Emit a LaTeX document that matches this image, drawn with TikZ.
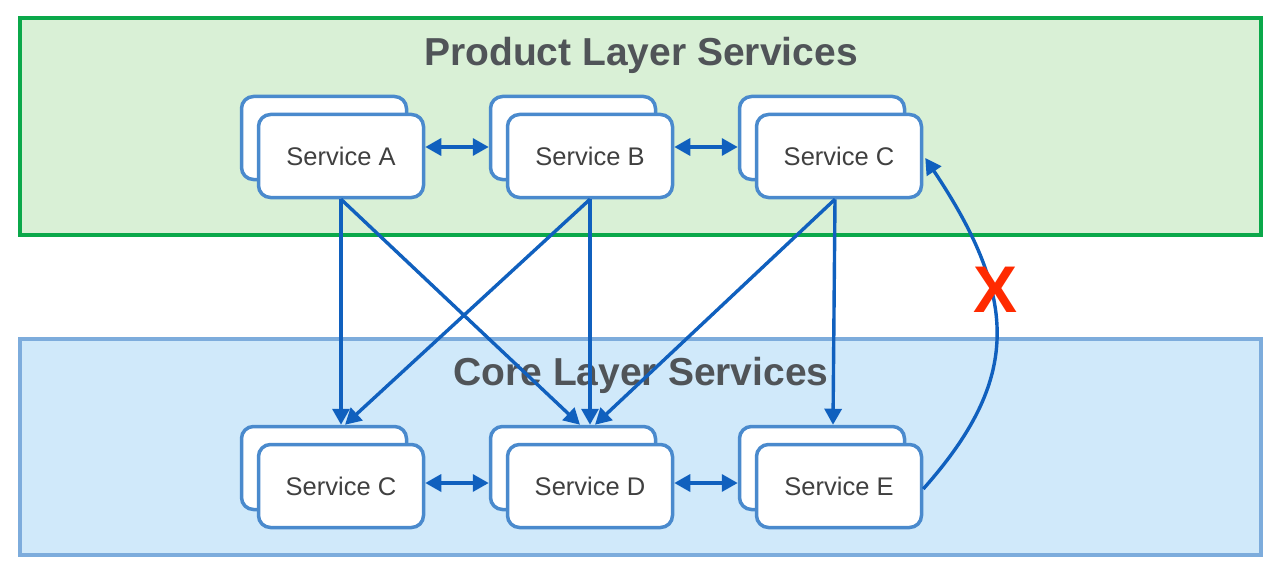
\documentclass[tikz,border=0pt]{standalone}
\usepackage{fontspec}
\setmainfont{Liberation Sans}
\usetikzlibrary{arrows.meta,calc}
\definecolor{topfill}{HTML}{D9F0D6}
\definecolor{topline}{HTML}{0BA84A}
\definecolor{botfill}{HTML}{D0E9FA}
\definecolor{botline}{HTML}{7DACDC}
\definecolor{boxline}{HTML}{4A8ACD}
\definecolor{arrcol}{HTML}{1060BE}
\definecolor{titlecol}{HTML}{505458}
\definecolor{textcol}{HTML}{404040}
\definecolor{xred}{HTML}{FF2A00}
\tikzset{
  layer/.style={line width=4pt},
  svc/.style={draw=boxline, fill=white, line width=3.5pt, rounded corners=12pt,
    minimum width=165pt, minimum height=83pt, inner sep=0pt,
    text=textcol, font=\fontsize{25.5}{30}\selectfont},
  ltitle/.style={text=titlecol, font=\bfseries\fontsize{39}{44}\selectfont, inner sep=0pt},
  arr/.style={draw=arrcol, line width=3.4pt, -{Triangle[length=16pt,width=17pt]}},
  darr/.style={draw=arrcol, line width=3.4pt, {Triangle[length=16pt,width=17pt]}-{Triangle[length=16pt,width=17pt]}},
}
\begin{document}
\begin{tikzpicture}[x=1pt,y=-1pt]
\useasboundingbox (0,0) rectangle (1280,575);
% layers
\draw[layer, draw=topline, fill=topfill] (20,18) rectangle (1261,235);
\draw[layer, draw=botline, fill=botfill] (20,339) rectangle (1261,555);
\node[ltitle] (ptitle) at (641,55) {Product Layer Services};
\node[ltitle] (ctitle) at (641,375) {Core Layer Services};
% service boxes (back copies then front)
\foreach \n/\x/\y/\t in {A/341/155/Service A, B/590/155/Service B, P/839/155/Service C,
                         Q/341/485/Service C, D/590/485/Service D, E/839/485/Service E}{
  \node[svc] (\n b) at (\x-17,\y-17) {};
  \node[svc] (\n) at (\x,\y+1) {\t};
}
% horizontal double arrows
\draw[darr] ([yshift=9pt]A.east) -- ([yshift=-9pt]Bb.west);
\draw[darr] ([yshift=9pt]B.east) -- ([yshift=-9pt]Pb.west);
\draw[darr] ([yshift=3pt]Q.east) -- ([yshift=-15pt]Db.west);
\draw[darr] ([yshift=3pt]D.east) -- ([yshift=-15pt]Eb.west);
% downward arrows
\draw[arr] (A.south) -- (A.south |- Qb.north);
\draw[arr] (A.south) -- ([xshift=7pt]Db.north);
\draw[arr] (B.south) -- ([xshift=21pt]Qb.north);
\draw[arr] (B.south) -- (B.south |- Db.north);
\draw[arr] ([xshift=-4pt]P.south) -- ([xshift=22pt]Db.north);
\draw[arr] ([xshift=-4pt]P.south) -- ([xshift=11pt]Eb.north);
% curved arrow back up
\coordinate (cs) at ([yshift=-3pt]E.east);
\coordinate (ce) at ([yshift=-2pt,xshift=2pt]P.east);
\draw[arr] (cs) .. controls (1020,380) and (1020,300) .. (ce);
\node[text=xred, font=\bfseries\fontsize{66}{70}\selectfont, inner sep=0pt] (xmark) at (995,290) {X};
\end{tikzpicture}
\end{document}
